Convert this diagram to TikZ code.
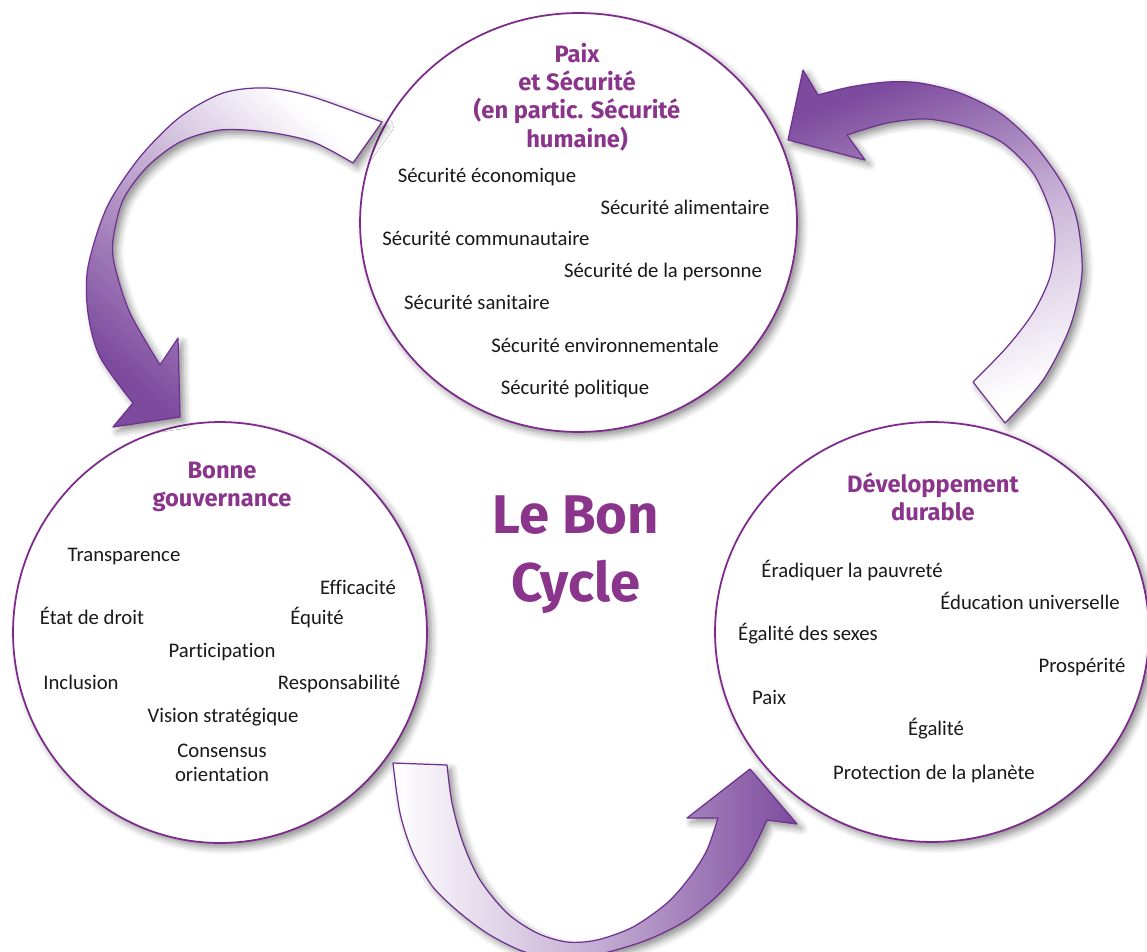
\documentclass[tikz,border=0pt]{standalone}
\usepackage{fontspec}
\setmainfont{Carlito}[Ligatures=NoCommon]
\setsansfont{Fira Sans}
\usetikzlibrary{shapes.geometric,shadows.blur}

\definecolor{titreviolet}{RGB}{139,52,140}
\definecolor{bordviolet}{RGB}{125,42,140}
\definecolor{flecheviolet}{RGB}{125,75,158}
\definecolor{traitviolet}{RGB}{112,48,146}

\tikzset{
  ombre/.style={blur shadow={shadow xshift=2.5pt, shadow yshift=-2.5pt, shadow blur radius=4pt, shadow opacity=45}},
  bulle/.style={ellipse, draw=bordviolet, line width=1pt, fill=white, inner sep=0pt, ombre},
  titre/.style={font=\sffamily\bfseries\fontsize{13.5}{16.2}\selectfont, text=titreviolet, align=center},
  item/.style={font=\fontsize{11.8}{13.7}\selectfont, text=black!90, anchor=mid},
  fleche/.style={draw=traitviolet, line width=0.7pt, line join=round, ombre},
}

\begin{document}
\begin{tikzpicture}[x=0.02cm, y=-0.02cm, line join=round, line cap=round]
	\useasboundingbox (0,0) rectangle (1147,951);
	% les trois bulles
	\node[bulle, minimum width=8.74cm, minimum height=8.38cm] (paix) at (578.5,222.5) {};
	\node[bulle, minimum width=8.28cm, minimum height=8.42cm] (gouv) at (220,632.5) {};
	\node[bulle, minimum width=8.68cm, minimum height=8.4cm] (dev) at (932,632) {};
	
	% fleche haut gauche : paix -> gouvernance
	\path[fleche, top color=white, bottom color=flecheviolet, middle color=flecheviolet!50, shading angle=-40]
		plot[smooth] coordinates {(382,122) (313,97) (267,88) (223,93) (180,117) (140,157) (107,207) (88,267) (88,313) (100,357) (133,403)}
		-- (113,427) -- (180,417) -- (178,338)
		-- plot[smooth] coordinates {(160,365) (130,313) (115,267) (113,240) (123,200) (147,167) (180,142) (220,130) (267,132) (313,142) (353,163)}
		-- cycle;
	% fleche droite : developpement -> paix
	\path[fleche, top color=flecheviolet, bottom color=white, middle color=flecheviolet!40, shading angle=20]
		plot[smooth] coordinates {(1005,423) (1043,380) (1070,327) (1082,273) (1077,220) (1062,183) (1033,143) (1000,113) (960,93) (920,83) (887,82) (850,87) (818,95)}
		-- (803,70) -- (788,140) -- (865,160)
		-- plot[smooth] coordinates {(847,135) (887,123) (927,119) (967,127) (1003,143) (1033,173) (1050,210) (1055,240) (1050,277) (1033,313) (1007,347) (973,382)}
		-- cycle;
	% fleche du bas : gouvernance -> developpement
	\path[fleche, left color=white, right color=flecheviolet, middle color=flecheviolet!45]
		plot[smooth] coordinates {(393,763) (400,813) (413,853) (433,887) (460,913) (490,935) (525,952) (563,958) (600,954) (647,940) (687,920) (720,893) (747,860) (767,820)}
		-- (797,824) -- (750,769) -- (687,818)
		-- plot[smooth] coordinates {(718,818) (707,850) (690,877) (667,903) (633,927) (597,940) (567,942) (537,933) (507,913) (480,880) (463,843) (452,803) (447,765)}
		-- cycle;
	
	% titres
	\node[titre] (tpaix) at (577,97) {Paix\\et Sécurité\\(en partic. Sécurité\\humaine)};
	\node[titre] (tgouv) at (222,487) {Bonne\\gouvernance};
	\node[titre] (tdev) at (933,497) {Développement\\durable};
	\node[titre, font=\sffamily\bfseries\fontsize{31}{38.7}\selectfont] (cycle) at (576,555) {Le Bon\\Cycle};
	
	% paix et securite
	\node[item] (ps1) at (487,178) {Sécurité économique};
	\node[item] (ps2) at (685,210) {Sécurité alimentaire};
	\node[item] (ps3) at (486,241) {Sécurité communautaire};
	\node[item] (ps4) at (663,273) {Sécurité de la personne};
	\node[item] (ps5) at (477,305) {Sécurité sanitaire};
	\node[item] (ps6) at (605,348) {Sécurité environnementale};
	\node[item] (ps7) at (575,390) {Sécurité politique};
	
	% bonne gouvernance
	\node[item] (bg1) at (124,557) {Transparence};
	\node[item] (bg2) at (358,590) {Efficacité};
	\node[item] (bg3) at (92,620) {État de droit};
	\node[item] (bg4) at (317,620) {Équité};
	\node[item] (bg5) at (222,653) {Participation};
	\node[item] (bg6) at (81,685) {Inclusion};
	\node[item] (bg7) at (339,685) {Responsabilité};
	\node[item] (bg8) at (223,718) {Vision stratégique};
	\node[item, anchor=center, align=center] (bg9) at (222,763) {Consensus\\orientation};
	
	% developpement durable
	\node[item] (dd1) at (852,573) {Éradiquer la pauvreté};
	\node[item] (dd2) at (1030,605) {Éducation universelle};
	\node[item] (dd3) at (808,636) {Égalité des sexes};
	\node[item] (dd4) at (1082,668) {Prospérité};
	\node[item] (dd5) at (769,700) {Paix};
	\node[item] (dd6) at (936,731) {Égalité};
	\node[item] (dd7) at (934,775) {Protection de la planète};
\end{tikzpicture}
\end{document}
